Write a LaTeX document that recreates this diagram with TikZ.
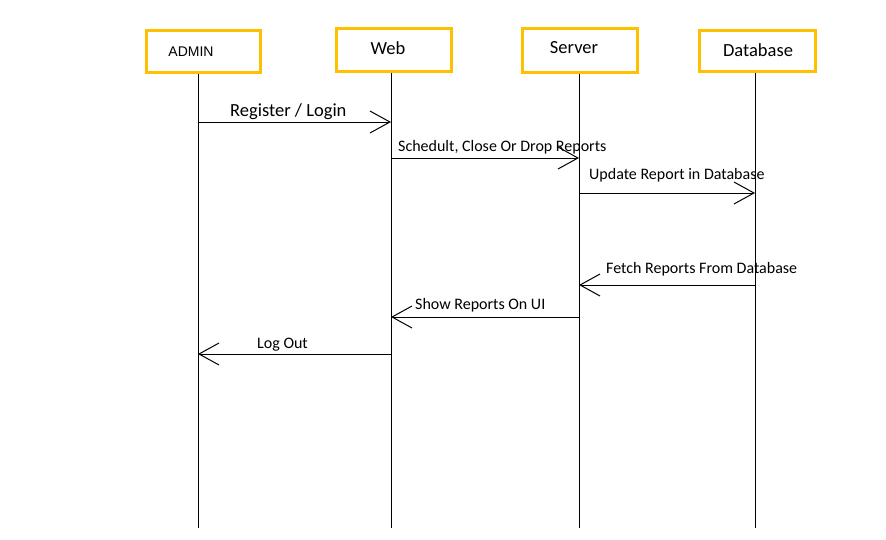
\documentclass[tikz,border=0pt]{standalone}
\usepackage{fontspec}
\setmainfont{Carlito}
\newfontfamily\adminfont{Liberation Sans}
\usetikzlibrary{arrows.meta}
\definecolor{boxyellow}{HTML}{FFC000}
\begin{document}
\begin{tikzpicture}[x=1pt,y=-1pt,
  actor/.style={draw=boxyellow,line width=3pt,inner sep=0pt},
  actortext/.style={inner sep=0pt,font=\fontsize{18.5}{22}\selectfont},
  lifeline/.style={line width=1pt},
  msg/.style={line width=1pt,-{Straight Barb[length=20pt,width=22pt,line width=1pt]}},
  lbl/.style={anchor=base west,inner sep=0pt,font=\fontsize{16}{19}\selectfont}]
\path[use as bounding box,fill=white] (0,0) rectangle (886,539);
% actors
\node[actor,minimum width=114pt,minimum height=42pt] (admin) at (203.5,51.5) {};
\node[actor,minimum width=115pt,minimum height=43pt] (web) at (394,50) {};
\node[actor,minimum width=115pt,minimum height=44pt] (server) at (580,50.5) {};
\node[actor,minimum width=116pt,minimum height=41pt] (db) at (757.5,51) {};
\node[actortext,font=\adminfont\fontsize{14}{16}\selectfont] (admintext) at (191,52) {ADMIN};
\node[actortext] (webtext) at (388,48) {Web};
\node[actortext] (servertext) at (574,48) {Server};
\node[actortext] (dbtext) at (758,50) {Database};
% lifelines
\coordinate (la) at (198,528);
\coordinate (lw) at (391,528);
\coordinate (ls) at (579,528);
\coordinate (ld) at (755,528);
\draw[lifeline] (la |- admin.south) -- (la);
\draw[lifeline] (lw |- web.south) -- (lw);
\draw[lifeline] (ls |- server.south) -- (ls);
\draw[lifeline] (ld |- db.south) -- (ld);
% message end points
\coordinate (m1a) at (198,122); \coordinate (m1b) at (391,122);
\coordinate (m2a) at (391,158); \coordinate (m2b) at (579,158);
\coordinate (m3a) at (579,193); \coordinate (m3b) at (755,193);
\coordinate (m4a) at (755,285); \coordinate (m4b) at (579,285);
\coordinate (m5a) at (579,317); \coordinate (m5b) at (391,317);
\coordinate (m6a) at (391,354); \coordinate (m6b) at (198,354);
\draw[msg] (m1a) -- (m1b);
\draw[msg] (m2a) -- (m2b);
\draw[msg] (m3a) -- (m3b);
\draw[msg] (m4a) -- (m4b);
\draw[msg] (m5a) -- (m5b);
\draw[msg] (m6a) -- (m6b);
% labels
\node[lbl,font=\fontsize{18.5}{22}\selectfont] (t1) at (230,116) {Register / Login};
\node[lbl] (t2) at (398,151) {Schedult, Close Or Drop Reports};
\node[lbl] (t3) at (589,179) {Update Report in Database};
\node[lbl] (t4) at (606,273) {Fetch Reports From Database};
\node[lbl] (t5) at (415,309) {Show Reports On UI};
\node[lbl] (t6) at (257,348) {Log Out};
\end{tikzpicture}
\end{document}
